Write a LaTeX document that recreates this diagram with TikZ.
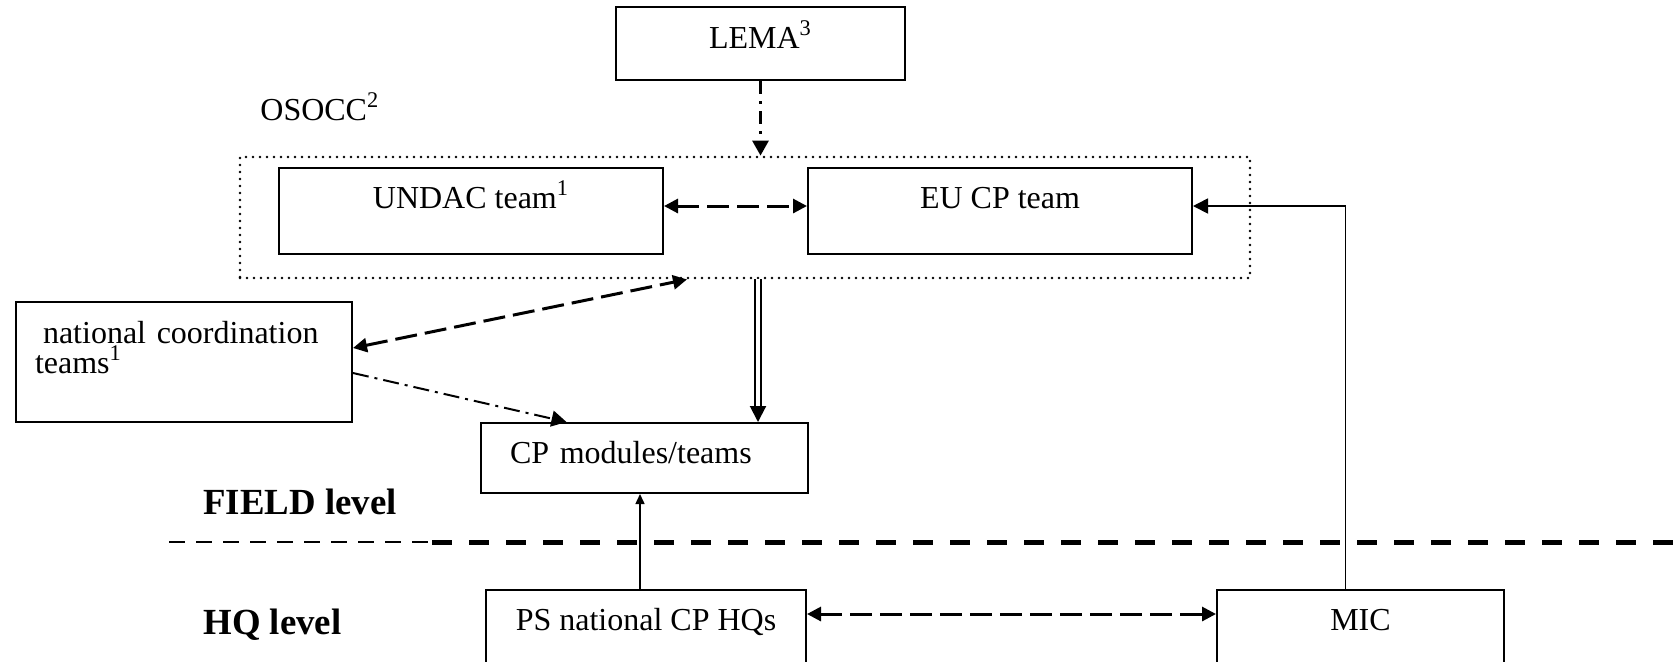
\documentclass[tikz,border=0pt]{standalone}
\usepackage{fontspec}
\setmainfont{Liberation Serif}
\usetikzlibrary{arrows.meta}
\tikzstyle{box} = [rectangle, draw=black, line width=1pt, inner sep=0pt,
text centered, font=\fontsize{16}{15}\selectfont]
\tikzstyle{frame} = [rectangle, draw=black, line width=1.4pt, dash pattern=on 0pt off 3.5pt,
line cap=round, inner sep=0pt, minimum width=505pt, minimum height=60.5pt]
\tikzstyle{level} = [anchor=base west, inner sep=0pt, font=\fontsize{18.4}{20}\selectfont\bfseries]
\tikzstyle{arrow} = [line width=0.9pt, -{Triangle[length=7.5pt,width=7.5pt]}]
\tikzstyle{thinarrow} = [line width=0.75pt, -{Triangle[length=5pt,width=4.5pt]}]
\tikzstyle{dblarrow} = [line width=1pt, double, double distance=2pt, -{Triangle[length=8pt,width=8pt]}]
\tikzstyle{dasharrow} = [line width=1.5pt, dash pattern=on 11pt off 4pt,
{Triangle[length=7pt,width=7pt]}-{Triangle[length=7pt,width=7pt]}]
\tikzstyle{dotdasharrow} = [line width=1.5pt, dash pattern=on 6.5pt off 3.5pt on 1.5pt off 3.5pt,
-{Triangle[length=7.5pt,width=8pt]}]

\begin{document}
\begin{tikzpicture}[x=0.5pt, y=-0.5pt]
\useasboundingbox (0,0) rectangle (1675,661);
\node (1)[box, minimum width=144.5pt, text height=20.5pt, text depth=16pt] at (760.5,43.5) {LEMA\textsuperscript{3}};
\node (2)[frame] at (745,217.5) {};
\node (3)[box, minimum width=192pt, text height=20pt, text depth=23pt] at (471,211) {UNDAC team\textsuperscript{1}};
\node (4)[box, minimum width=192pt, text height=20pt, text depth=23pt] at (1000,211) {EU CP team};
\node (5)[box, text width=149pt, align=left, inner xsep=9.5pt, text height=20.5pt, text depth=39.5pt] at (184,362)
{\hspace*{4pt}national coordination\\teams\textsuperscript{1}};
\node (6)[box, text width=134.5pt, align=left, inner xsep=14.5pt, text height=20pt, text depth=15pt] at (644.5,458) {CP modules/teams};
\node (7)[box, minimum width=160pt, text height=20pt, text depth=30pt] at (646,640) {PS national CP HQs};
\node (8)[box, minimum width=143.5pt, text height=20pt, text depth=30pt] at (1360.5,640) {MIC};
\node (9)[anchor=base west, inner sep=0pt, font=\fontsize{16}{18}\selectfont] at (260,120) {OSOCC\textsuperscript{2}};
\node (10)[level] at (203,514) {FIELD level};
\node (11)[level] at (203,634) {HQ level};

% field / HQ separator
\draw [line width=1pt, dash pattern=on 8pt off 5.5pt] (169,542) -- (432,542);
\draw [line width=2.5pt, dash pattern=on 10pt off 8.5pt] (432,542) -- (1675,542);

\draw [dotdasharrow](1) -- (1.south |- 2.north);
\draw [dasharrow]([yshift=2.5pt]3.east) -- ([yshift=2.5pt]4.west);
\draw [arrow]([xshift=-7.5pt]8.north) |- ([yshift=2.5pt]4.east);
\draw [dblarrow]([xshift=6.5pt]2.south) -- ([xshift=6.5pt]2.south |- 6.north);
\draw [dasharrow]([yshift=7pt]5.east) -- ([xshift=-29pt]2.south);
\draw [dotdasharrow, line width=1pt, dash pattern=on 8pt off 3pt on 1.5pt off 3pt]([yshift=-5.5pt]5.east) -- ([xshift=-39pt]6.north);
\draw [thinarrow]([xshift=-3pt]7.north) -- ([xshift=-3pt]7.north |- 6.south);
\draw [dasharrow]([yshift=13pt]7.east) -- ([yshift=13pt]8.west);
\end{tikzpicture}
\end{document}
